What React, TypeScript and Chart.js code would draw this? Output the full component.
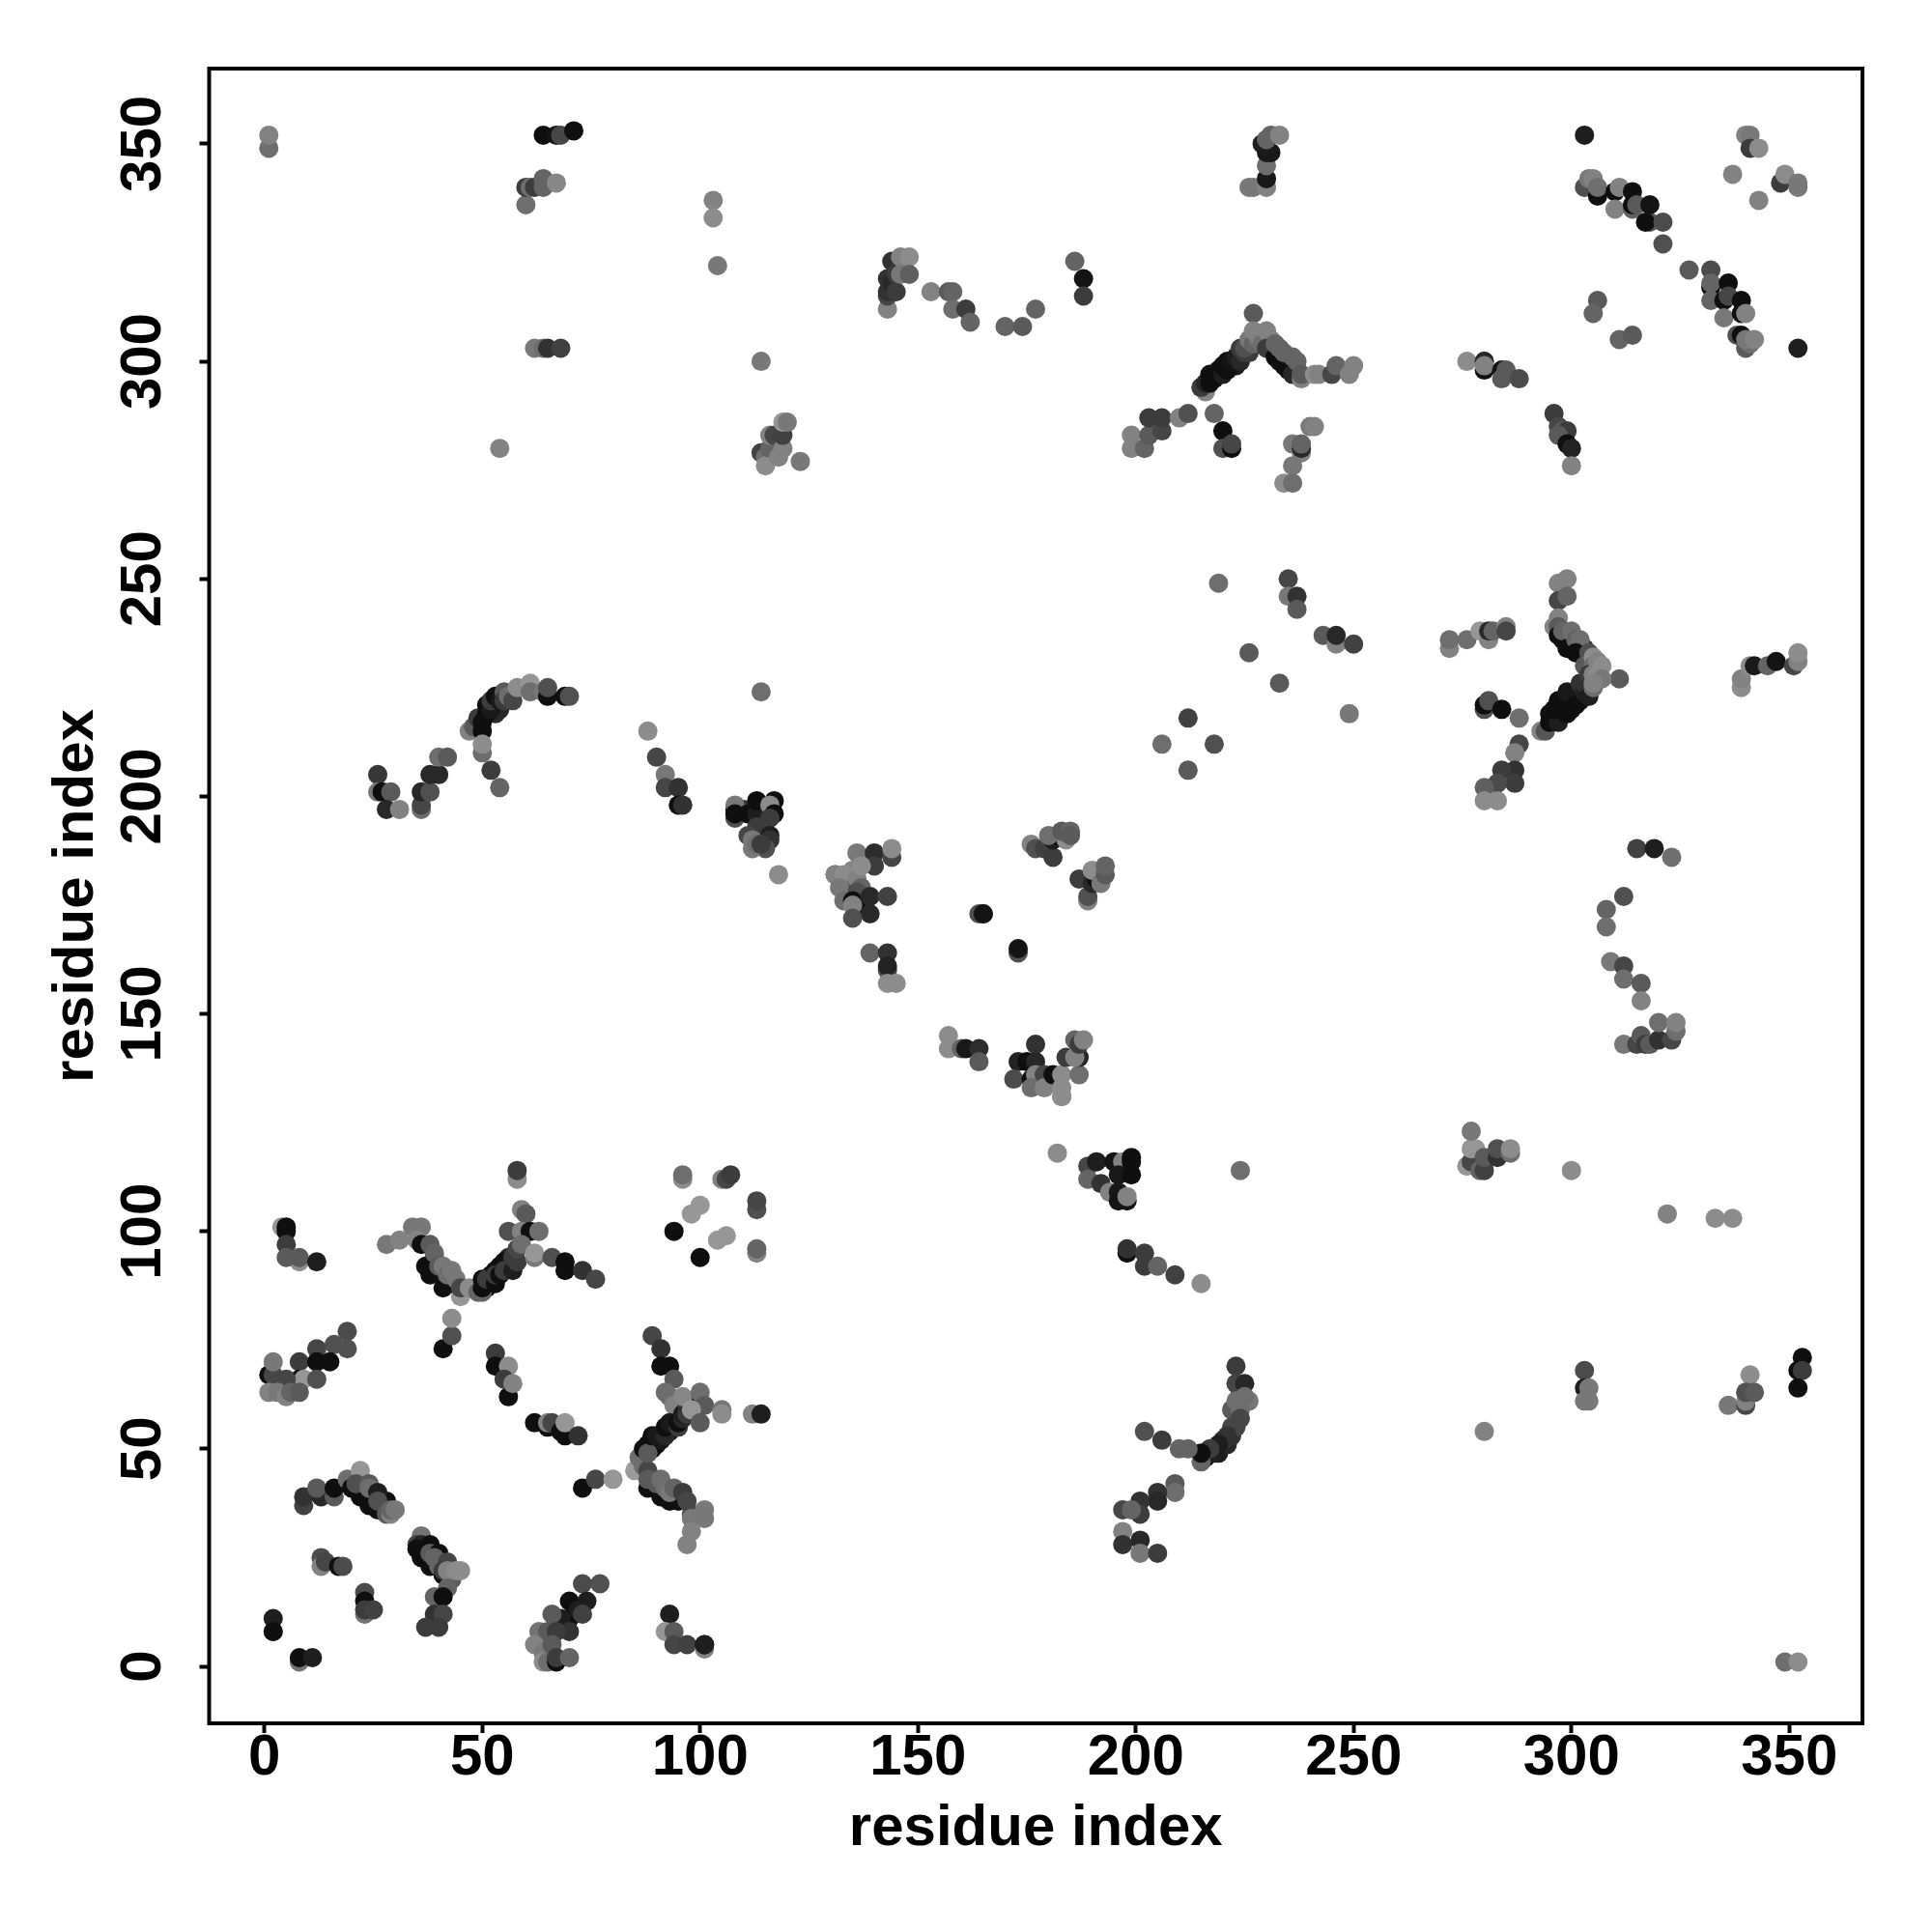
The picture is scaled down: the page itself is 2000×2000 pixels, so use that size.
import React, { useEffect, useRef } from "react";
import { Chart, registerables } from "chart.js";

Chart.register(...registerables);

type Contact = [number, number, number]; // residue i, residue j, grey level of the contact

const tickValues = [0, 50, 100, 150, 200, 250, 300, 350];
const axisLabel = "residue index";

const nTerminal: Contact[] = [
  [2,8,115],[2,11,30],[2,8,15],[8,1,115],[8,2,15],[11,2,30],
  [13,25,75],[13,23,130],[14,24,70],[17,23,15],[18,23,75],
  [23,12,115],[23,17,75],[23,15,15],[23,13,60],[25,13,65],
];
const arcA: Contact[] = [
  [23,40,15],[25,38,15],[27,36,15],
  [9,37,65],[9,39,50],[13,39,40],[12,41,90],[16,39,90],[16,41,15],[19,43,110],[22,45,150],
  [20,41,15],[22,39,15],[24,37,15],[26,36,15],[28,38,15],[21,42,80],[24,42,90],[24,41,110],[26,40,30],[26,38,80],
  [28,35,90],[29,35,130],[29,36,100],[30,36,120],
];
const arcB: Contact[] = [
  [37,27,15],[39,24,15],[41,24,15],
  [36,30,115],[35,28,70],[36,28,40],[35,27,15],[36,25,15],[38,23,15],[38,28,15],[38,26,90],[40,26,15],[39,25,100],[40,23,100],
  [42,24,70],[41,21,15],[41,22,60],[43,20,90],[42,22,130],[44,22,140],[45,22,140],[42,18,100],[39,16,100],[41,16,15],
  [39,12,50],[41,12,70],[37,9,60],[40,9,60],
];
const bottomCluster: Contact[] = [
  [73,19,75],[77,19,80],[70,15,15],[74,15,30],[70,11,15],[68,11,30],[72,13,30],[73,12,65],[66,12,90],
  [63,8,115],[65,8,90],[70,8,50],[67,8,60],[62,5,130],[64,3,120],[66,5,90],[64,1,140],[65,1,110],[67,1,15],[67,2,60],[70,2,100],
];
const bottomRightOfIt: Contact[] = [
  [93,12,30],[92,8,150],[94,8,90],[94,5,70],[97,5,65],[101,4,130],[101,5,15],[101,5,30],
];
const forkA: Contact[] = [
  [89,50,15],[90,51,15],[91,52,25],[93,54,15],[94,55,25],[90,41,15],[94,39,15],
  [89,76,70],[91,73,50],[91,69,15],[93,69,15],[94,66,90],[93,62,110],[92,63,110],[94,60,130],
  [85,45,155],[86,48,110],[87,46,110],[88,45,70],[88,41,15],[91,39,15],[93,38,15],[95,38,15],
  [87,50,15],[88,51,15],[88,49,90],[89,53,15],[90,53,25],[92,53,40],[92,55,15],[93,56,25],[95,55,60],[95,56,15],[96,57,40],[96,58,30],[97,58,60],[97,60,50],
  [88,43,90],[90,42,90],[91,43,110],[92,41,110],[93,40,120],[94,41,100],[96,40,60],[97,38,70],[98,35,70],[101,36,120],[101,34,120],[98,34,120],[98,31,130],[97,28,130],
  [100,61,15],[96,62,135],[100,63,110],[101,60,90],[98,59,150],[100,56,90],[105,59,120],[105,58,140],
  [112,58,130],[114,58,30],
];
const midLow: Contact[] = [
  [73,41,15],[76,43,70],[80,43,150],
  [62,56,15],[65,55,15],[65,56,130],[66,56,70],[68,54,15],[69,53,15],[69,56,150],[72,53,50],
  [53,72,60],[53,69,15],[56,69,140],[56,62,15],[55,66,60],[57,65,130],
  [41,73,15],[43,76,80],[43,80,140],
];
const leftHelix: Contact[] = [
  [19,77,75],[19,73,80],[16,74,80],[12,73,70],[8,70,60],[12,70,15],[15,70,15],
  [1,67,15],[2,67,70],[2,70,120],[8,66,15],[9,66,150],[12,66,80],[5,66,70],
  [1,63,130],[3,63,120],[5,62,130],[6,63,100],[8,63,90],
];
const valley: Contact[] = [
  [39,94,15],[43,88,15],[51,87,15],[52,90,15],[54,92,15],[56,92,15],[42,88,50],[52,88,30],[56,94,40],
  [4,101,150],[5,101,15],[5,100,15],[5,97,60],[8,93,140],[5,94,90],[8,94,90],[12,93,30],
  [28,97,120],[31,98,130],[34,101,120],[36,101,120],[35,98,130],[36,97,15],[38,97,90],
  [37,92,15],[38,90,15],[39,95,100],[41,87,15],[40,92,90],[41,92,120],[42,90,110],[43,91,120],[44,89,120],[45,85,150],[45,87,70],[47,87,140],[49,86,100],
  [50,86,100],[50,87,15],[50,89,15],[51,89,60],[53,88,15],[53,91,15],[53,90,60],[54,90,15],[55,93,15],[55,91,60],[57,91,30],[57,94,60],[58,93,60],[58,96,70],
  [56,100,80],[59,105,130],[60,104,90],[59,100,130],[61,100,15],[63,100,110],[59,97,110],[62,94,120],[62,95,150],
  [66,94,80],[69,93,15],[69,91,15],[73,91,50],[76,89,70],
  [58,112,140],[58,114,60],
];
const smallRing: Contact[] = [
  [96,112,140],[96,113,110],[105,112,130],[106,112,70],[107,113,60],
  [94,100,15],[100,94,15],[98,104,150],[100,106,150],[104,98,150],[106,99,150],
  [113,105,80],[113,107,70],[113,95,130],[113,96,100],
];
const arcC: Contact[] = [
  [49,217,15],[50,218,25],[53,221,15],[53,219,40],[54,220,40],
  [26,205,55],[26,201,120],[27,201,15],[29,201,90],[28,197,40],[31,197,130],
  [36,197,110],[36,198,70],[36,201,40],[38,201,80],[38,205,40],[40,205,40],[40,209,110],[42,209,90],
  [47,215,130],[48,216,90],[49,218,60],[50,215,15],[50,217,15],[51,219,15],[51,221,15],[52,220,25],[52,222,60],[53,223,15],[54,222,25],
  [55,224,90],[55,222,60],[56,223,110],[57,222,70],[58,225,140],[61,226,150],[61,224,110],[64,224,120],[65,223,15],[65,225,80],
  [69,223,15],[70,223,80],[50,210,110],[50,212,140],[52,206,60],[54,202,100],
  [114,224,110],[118,182,140],
];
const chainD: Contact[] = [
  [114,191,15],[110,197,50],[114,192,30],
  [88,215,140],[90,209,70],[92,205,120],[92,202,70],[95,202,50],[95,198,15],[96,198,50],
  [108,197,15],[108,198,120],[108,195,80],[108,196,15],[111,196,15],[113,196,30],[113,199,15],[117,199,15],[116,198,140],
  [113,193,60],[117,196,15],[116,195,60],[116,191,30],[116,190,50],[115,188,80],[111,191,70],[112,190,120],[112,188,120],[113,189,110],[114,189,60],
];
const centerA: Contact[] = [
  [137,175,15],[135,183,130],
  [136,187,120],[140,187,45],[144,186,70],[144,188,140],[140,184,60],[131,182,90],[131,182,130],[133,182,140],
  [136,180,50],[136,181,130],[137,184,140],[137,179,100],[132,179,120],[136,178,80],[133,176,110],[135,176,15],[135,175,130],[139,177,40],[143,177,65],
  [139,173,40],[135,172,80],[139,164,100],[143,164,50],[143,160,80],[143,161,35],[143,157,140],[145,157,140],
];
const centerB: Contact[] = [
  [164,173,80],[165,173,60],[165,173,20],[173,164,80],[173,165,20],
  [176,189,130],[177,188,80],[179,188,65],[181,186,60],[181,190,30],[182,191,15],[180,191,110],[184,190,140],[183,192,90],[185,192,100],[185,191,90],
  [189,176,130],[189,177,80],[187,181,60],[190,180,40],[191,181,15],[190,183,140],[192,180,120],[193,182,90],[193,184,100],
];
const centerC: Contact[] = [
  [157,145,140],[157,142,140],[160,142,100],[161,142,25],[164,142,45],[164,139,90],
  [173,139,35],[175,139,15],[177,143,50],[177,139,40],[172,135,75],[176,135,15],[177,136,130],[176,133,110],[179,136,70],[179,133,130],
  [181,136,15],[183,131,100],[183,131,140],[183,136,140],[183,133,140],[187,136,110],[184,140,60],[187,140,40],[186,140,130],[186,144,100],[187,143,60],[188,144,130],
];
const centerD: Contact[] = [
  [182,118,140],[224,114,110],
  [189,115,70],[189,112,100],[191,116,30],[192,111,50],[194,109,130],[195,116,20],[197,116,130],[199,117,15],[199,116,15],[196,113,25],[199,113,15],
  [196,109,25],[196,107,20],[198,107,20],[198,108,130],
  [198,95,15],[198,96,50],[202,95,60],[202,92,60],[205,92,100],[209,90,65],[215,88,140],
];
const topLeft: Contact[] = [
  [1,349,110],[1,352,130],[64,352,15],[67,352,20],[68,352,70],[71,353,15],
  [60,336,110],[60,340,60],[61,340,110],[62,340,60],[64,340,100],[64,342,100],[67,341,135],
  [62,303,120],[64,303,110],[65,303,50],[68,303,65],
  [103,337,130],[103,333,140],[104,322,120],[54,280,130],[114,300,120],
];
const topMid: Contact[] = [
  [114,279,65],[115,278,110],[115,276,140],[116,280,100],[116,283,130],[117,283,70],[118,278,130],[119,280,130],[119,283,65],[119,286,150],[120,286,120],[123,277,120],
  [143,312,130],[143,315,70],[143,316,50],[143,319,50],[144,318,40],[144,323,50],[145,320,60],[145,316,60],[146,324,130],[148,324,140],[146,320,120],[148,320,95],
  [153,316,130],[157,316,90],[158,316,100],[158,312,110],[161,312,60],[162,309,100],[170,308,100],[174,308,90],[177,312,100],
  [186,323,100],[188,319,20],[188,315,60],
];
const peak: Contact[] = [
  [217,296,60],[219,297,50],[221,300,15],[222,299,30],[223,299,25],[233,300,15],[235,298,15],[235,300,30],
  [227,311,90],[215,294,100],[216,293,130],[215,294,60],[216,295,40],[217,295,15],[218,296,15],[218,297,15],[217,297,15],[219,298,15],[220,297,30],
  [220,299,15],[221,298,15],[222,300,20],[223,301,30],[224,300,40],[224,303,60],[225,302,60],[226,302,60],[225,303,80],[226,305,120],[227,304,100],[227,307,130],
  [228,305,110],[228,306,130],[229,304,110],[230,307,130],[231,305,130],[230,303,60],[232,301,15],[232,304,100],[233,303,100],[234,299,15],[234,302,100],[236,297,40],[237,298,40],[236,301,100],
  [237,300,100],[238,296,130],[238,297,90],[241,297,140],[242,297,130],[245,297,70],[246,299,100],[249,297,130],[250,299,130],
];
const peakLeft: Contact[] = [
  [199,283,130],[199,280,130],[202,280,100],[203,283,90],[203,287,60],[206,284,70],[206,287,60],[210,287,130],[212,288,80],
  [218,288,100],[220,284,15],[220,280,80],[222,280,15],[222,281,70],
  [240,285,120],[241,285,130],[236,281,120],[238,279,130],[238,280,40],[238,281,100],[236,276,120],[234,272,140],[236,272,110],
];
const topRightMid: Contact[] = [
  [276,300,140],[280,300,110],[280,300,40],[280,298,15],[280,299,130],[284,298,20],[285,298,90],[284,296,90],[288,296,75],
  [296,288,60],[297,285,70],[298,284,90],[299,284,60],[297,283,90],[299,281,15],[300,280,35],[300,276,130],
];
const midRight: Contact[] = [
  [219,249,110],[226,233,90],[233,226,90],[235,250,70],[235,246,120],[237,246,50],[237,243,90],[243,237,90],[246,235,130],[246,237,40],[250,235,65],[249,219,120],
  [212,218,65],[206,212,110],[218,212,80],[212,206,90],
];
const elbow: Contact[] = [
  [272,234,130],[272,236,110],[276,236,110],[279,238,150],[281,236,130],[281,238,40],[282,238,100],[285,239,130],[285,238,70],
  [280,220,80],[280,221,15],[281,222,80],[284,220,15],[288,218,110],[288,212,70],[287,210,130],[287,206,50],[284,206,60],[287,203,60],[283,203,75],[280,202,95],[280,199,140],[283,199,140],
];
const chevron: Contact[] = [
  [298,236,15],[300,235,30],[302,234,30],[303,234,40],[296,218,15],[298,219,25],[298,221,15],[300,220,30],[300,222,15],[302,222,25],
  [299,250,130],[297,249,130],[297,245,70],[299,246,100],[297,241,130],[296,239,130],[297,239,90],[297,237,15],[298,238,100],[300,238,110],[299,234,15],
  [301,236,100],[302,236,110],[301,233,15],[304,231,60],[304,233,80],[303,230,90],[305,232,140],[305,230,110],
  [293,215,130],[294,215,85],[295,217,15],[295,219,15],[297,217,30],[296,220,15],[297,222,15],[299,219,15],[299,224,25],[301,221,15],[302,226,50],[303,224,35],[303,226,50],[304,223,30],[304,228,60],[305,225,110],
  [305,228,130],[306,228,140],[306,231,130],[307,230,140],[311,227,90],[307,227,120],[305,226,130],
  [339,225,140],[339,227,130],[341,230,140],[342,230,25],[345,230,100],[347,231,20],[351,230,70],[352,231,130],[352,233,140],
];
const rightColumn: Contact[] = [
  [315,188,65],[319,188,30],[323,186,110],[308,174,100],[308,170,110],[312,177,80],[309,162,120],[312,161,70],[312,158,110],[316,157,90],[316,153,130],
  [312,143,120],[315,143,70],[316,145,90],[317,143,60],[318,143,90],[320,144,50],[320,148,110],[323,144,70],[324,146,110],[324,148,130],
];
const lowerRight: Contact[] = [
  [276,115,150],[277,116,70],[279,114,100],[280,114,65],[277,119,150],[278,119,150],[277,123,120],[280,117,90],
  [283,117,50],[283,119,80],[286,118,110],[286,119,140],
  [300,114,140],[322,104,130],[333,103,140],[337,103,140],
];
const cornerArc: Contact[] = [
  [216,48,15],[218,50,15],[217,49,40],[219,49,30],[221,51,40],[220,52,50],[222,53,50],[223,55,70],[222,59,90],[224,63,60],
  [223,69,60],[223,65,70],[225,65,40],[226,61,120],[225,62,110],[223,61,110],[224,59,110],[224,57,70],[222,55,70],[221,53,50],[219,51,30],[218,49,30],[217,50,60],[215,47,100],[215,49,15],
  [212,50,100],[210,50,100],[209,42,90],[209,40,110],[206,52,60],[202,54,80],[205,40,50],[205,38,40],[201,38,50],[201,35,60],[197,36,70],[199,36,100],
  [197,31,130],[197,28,50],[201,29,40],[201,26,120],[205,26,60],
];
const farRight: Contact[] = [
  [280,54,130],[303,68,75],[303,64,30],[304,64,120],[303,61,120],[304,61,120],
  [336,60,120],[340,60,70],[340,61,130],[341,67,140],[340,63,80],[342,63,90],
  [353,71,15],[352,68,15],[353,68,60],[352,64,15],[349,1,110],[352,1,140],
];
const topRight: Contact[] = [
  [303,352,30],[303,340,80],[304,342,120],[305,342,130],[306,338,15],[306,340,110],[310,339,15],[311,340,130],[310,335,130],[314,339,15],[314,335,100],[314,336,15],[315,336,90],[318,332,90],[317,332,15],[318,336,20],[321,332,75],[321,327,80],
  [327,321,90],[332,321,75],[332,317,15],[332,318,100],[336,318,15],[332,314,100],[335,314,15],[336,315,70],[339,314,15],[335,310,120],[339,311,15],[340,311,130],[338,306,80],[339,306,15],[340,303,90],[341,304,110],[340,305,120],[342,305,130],
  [306,314,90],[305,311,100],[311,305,100],[314,306,90],[352,303,30],
  [340,352,130],[341,352,120],[341,349,60],[343,349,140],[337,343,130],[343,337,130],[348,341,60],[349,343,140],[352,340,120],[352,341,120],
  [226,340,120],[227,340,120],[230,340,130],[230,342,25],[230,345,110],[230,348,25],[231,348,25],[229,350,30],[230,351,100],[231,352,100],[233,352,130],
];

const allGroups = [
  nTerminal, arcA, arcB, bottomCluster, bottomRightOfIt, forkA, midLow, leftHelix, valley, smallRing, arcC, chainD,
  centerA, centerB, centerC, centerD, topLeft, topMid, peak, peakLeft, topRightMid, midRight, elbow, chevron,
  rightColumn, lowerRight, cornerArc, farRight, topRight,
];

const FONT = "'Liberation Sans', Arial, sans-serif";

const framePlugin = {
  id: "frame",
  afterDraw(chart: Chart) {
    const { ctx, chartArea: a } = chart;
    ctx.save();
    ctx.strokeStyle = "#000";
    ctx.lineWidth = 4;
    ctx.strokeRect(a.left, a.top, a.right - a.left, a.bottom - a.top);
    ctx.restore();
  },
};

export default function App() {
  const ref = useRef<HTMLCanvasElement>(null);
  useEffect(() => {
    const axisCommon = (min: number, max: number, afterFit: (s: any) => void) => ({
      type: "linear" as const,
      min,
      max,
      afterBuildTicks: (s: any) => {
        s.ticks = tickValues.map((value) => ({ value }));
      },
      afterFit,
      border: { display: false },
      grid: {
        display: true,
        drawOnChartArea: false,
        drawTicks: true,
        tickLength: 10,
        tickWidth: 4,
        tickColor: "#000",
      },
    });
    const chart = new Chart(ref.current!, {
      type: "scatter",
      data: {
        datasets: allGroups.map((group) => ({
          data: group.map(([x, y]) => ({ x, y })),
          pointBackgroundColor: group.map(([, , g]) => `rgb(${g},${g},${g})`),
          pointBorderWidth: 0,
          pointRadius: 10,
          showLine: false,
        })),
      },
      options: {
        animation: false,
        responsive: false,
        layout: { padding: { left: 43, top: 71, right: 72, bottom: 71 } },
        plugins: { legend: { display: false }, tooltip: { enabled: false } },
        scales: {
          x: {
            ...axisCommon(-12.7, 366.8, (s) => { s.height = 145; }),
            title: {
              display: true,
              text: axisLabel,
              color: "#000",
              font: { family: FONT, size: 60, weight: "bold", lineHeight: 1.2 },
              padding: 0,
            },
            ticks: {
              autoSkip: false,
              maxRotation: 0,
              minRotation: 0,
              padding: -10,
              color: "#000",
              font: { family: FONT, size: 60, weight: "bold", lineHeight: 1.2 },
              callback: (v: any) => String(v),
            },
          },
          y: {
            ...axisCommon(-13.1, 367.3, (s) => { s.width = 173.5; }),
            title: {
              display: true,
              text: axisLabel,
              color: "#000",
              font: { family: FONT, size: 60, weight: "bold", lineHeight: 1.2 },
              padding: 0,
            },
            ticks: {
              autoSkip: false,
              minRotation: 90,
              maxRotation: 90,
              crossAlign: "center",
              padding: 7,
              color: "#000",
              font: { family: FONT, size: 60, weight: "bold", lineHeight: 1.2 },
              callback: (v: any) => String(v),
            },
          },
        },
      },
      plugins: [framePlugin],
    } as any);
    return () => chart.destroy();
  }, []);
  return (
    <canvas
      ref={ref}
      width={2000}
      height={2000}
      style={{ position: "absolute", left: 0, top: 0, width: 2000, height: 2000, background: "#fff" }}
    />
  );
}
